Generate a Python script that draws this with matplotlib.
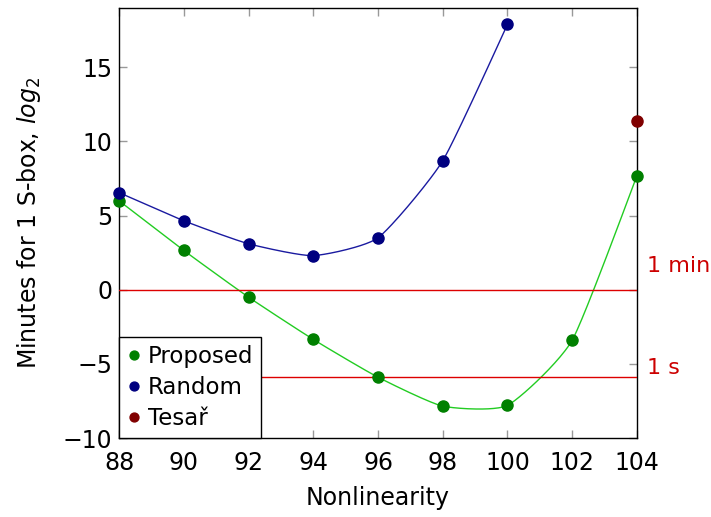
import numpy as np
import matplotlib
matplotlib.use('Agg')
import matplotlib.pyplot as plt

plt.rcParams.update({
    'font.family': 'DejaVu Sans',
    'mathtext.fontset': 'dejavusans',
    'font.size': 15,
    'xtick.direction': 'in',
    'ytick.direction': 'in',
})

# data
x_random = [88, 90, 92, 94, 96, 98, 100]
y_random = [6.55, 4.65, 3.1, 2.3, 3.5, 8.7, 17.9]
x_proposed = [88, 90, 92, 94, 96, 98, 100, 102, 104]
y_proposed = [6.0, 2.65, -0.5, -3.35, -5.9, -7.85, -7.8, -3.4, 7.7]
x_tesar = [104]
y_tesar = [11.35]
ref_levels = [0, np.log2(1 / 60.)]
ref_labels = ['1 min', '1 s']
ref_label_y = [1.6, -5.3]


def smooth(xs, ys, tension=0.55, n=40):
    # pgfplots-like smooth curve through the points (cubic bezier pieces)
    p = np.column_stack([xs, ys]).astype(float)
    k = tension / 3.0
    out = []
    for i in range(len(p) - 1):
        a, b = p[i], p[i + 1]
        ta = (p[i + 1] - p[i - 1]) if i > 0 else (p[i + 1] - p[i])
        tb = (p[i + 2] - p[i]) if i + 2 < len(p) else (p[i + 1] - p[i])
        c1 = a + k * ta * (0.5 if i > 0 else 0.3)
        c2 = b - k * tb * (0.5 if i + 2 < len(p) else 0.3)
        t = np.linspace(0, 1, n)[:, None]
        seg = (1 - t) ** 3 * a + 3 * (1 - t) ** 2 * t * c1 + 3 * (1 - t) * t ** 2 * c2 + t ** 3 * b
        out.append(seg)
    s = np.vstack(out)
    return s[:, 0], s[:, 1]


fig = plt.figure(figsize=(7.11, 5.17), dpi=100)
ax = fig.add_axes([0.1674, 0.1528, 0.7285, 0.8317])

for lvl in ref_levels:
    ax.axhline(lvl, color='#dd0000', lw=1.0, zorder=2.6)

sx, sy = smooth(x_random, y_random)
ax.plot(sx, sy, color='#1a1aa0', lw=1.0, zorder=2)
sx, sy = smooth(x_proposed, y_proposed)
ax.plot(sx, sy, color='#22cc22', lw=1.0, zorder=2)

ax.plot(x_proposed, y_proposed, 'o', color='#008000', ms=8, ls='none', label='Proposed', zorder=3, clip_on=False)
ax.plot(x_random, y_random, 'o', color='#000080', ms=8, ls='none', label='Random', zorder=3, clip_on=False)
ax.plot(x_tesar, y_tesar, 'o', color='#800000', ms=8, ls='none', label='Tesař', zorder=3, clip_on=False)

for ty, lab in zip(ref_label_y, ref_labels):
    ax.text(104.3, ty, lab, color='#cc0000', fontsize=16, va='center', ha='left')

ax.set_xlim(88, 104)
ax.set_ylim(-10, 19)
ax.set_xticks(range(88, 105, 2))
ax.set_yticks([-10, -5, 0, 5, 10, 15])
ax.set_yticklabels(['\u221210', '\u22125', '0', '5', '10', '15'])
ax.tick_params(top=True, right=True, length=6, width=1, color='#999999', labelsize=17)
ax.tick_params(axis='x', pad=9)
ax.tick_params(axis='y', pad=5)
for sp in ax.spines.values():
    sp.set_linewidth(1.0)

ax.set_xlabel('Nonlinearity', fontsize=17, labelpad=8)
ax.set_ylabel('Minutes for 1 S-box, $log_2$', fontsize=17, labelpad=14)

leg = ax.legend(loc='lower left', borderaxespad=0, fancybox=False, edgecolor='black',
                framealpha=1, fontsize=16.5, handlelength=0.6, handletextpad=0.3,
                borderpad=0.35, labelspacing=0.35, markerscale=0.8)
leg.get_frame().set_linewidth(1.0)
for txt in leg.get_texts():
    txt.set_ha('center')
    txt.set_x(0)

fig.savefig('out.png', dpi=100)
